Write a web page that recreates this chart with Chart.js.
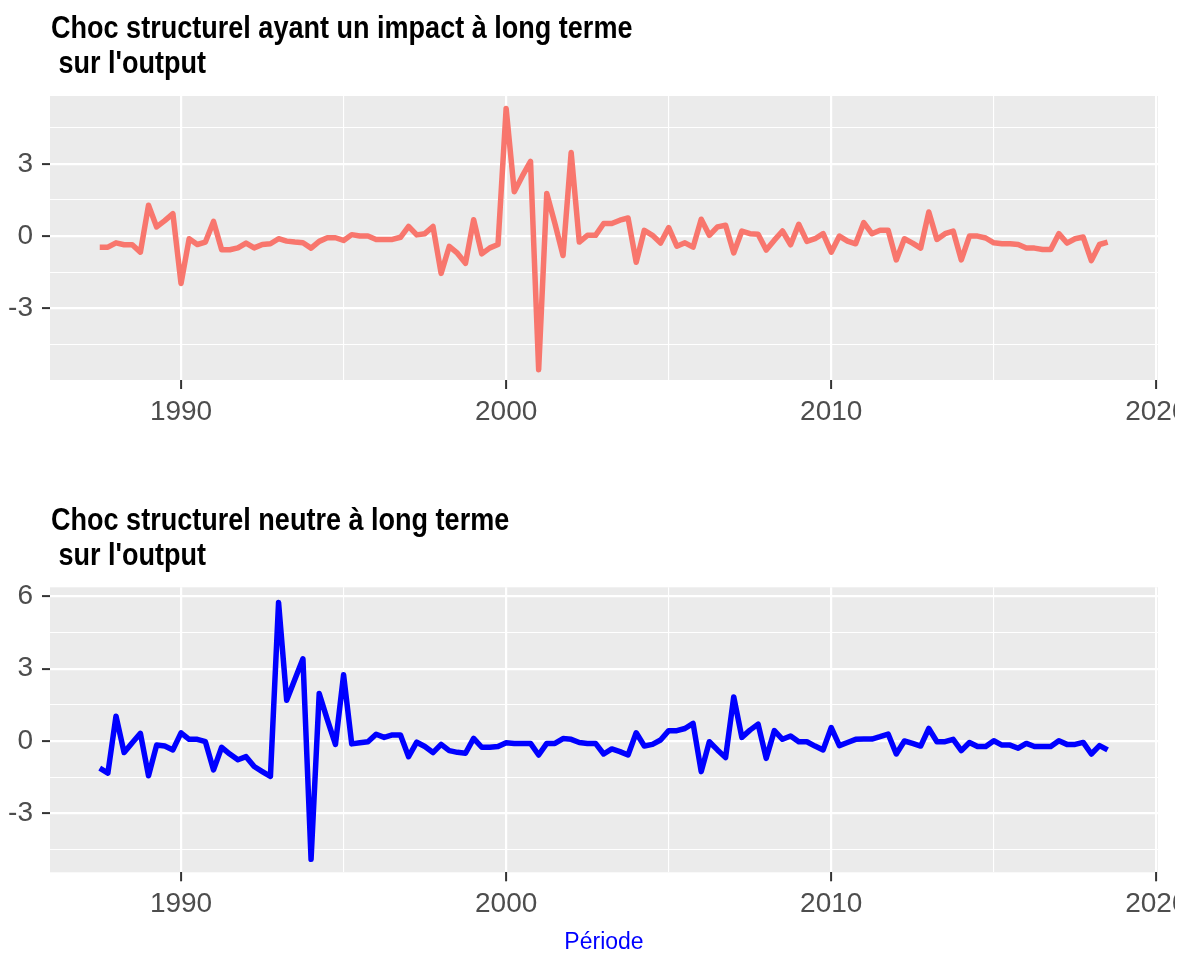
<!DOCTYPE html>
<html>
<head>
<meta charset="utf-8">
<script src="https://cdn.jsdelivr.net/npm/chart.js@4.4.1/dist/chart.umd.min.js"></script>
<style>
  html, body { margin: 0; padding: 0; background: #fff; }
  body { width: 1186px; height: 954px; position: relative; overflow: hidden; }
  .panel { position: absolute; left: 0; }
  .panel canvas { display: block; }
  /* titres en gras étroit (type Arial Narrow) */
  .titre {
    position: absolute; left: 51px; margin: 0;
    font-family: 'Liberation Sans', Arial, sans-serif; font-weight: bold;
    font-size: 32px; line-height: 35px; color: #000;
    white-space: pre; transform: scaleX(0.845); transform-origin: 0 0;
  }
</style>
</head>
<body>
<div class="panel" style="top:0"><canvas id="chocImpact" width="1175" height="480"></canvas></div>
<div class="panel" style="top:490px"><canvas id="chocNeutre" width="1175" height="464"></canvas></div>
<div class="titre" style="top:10px">Choc structurel ayant un impact à long terme
 sur l'output</div>
<div class="titre" style="top:502px">Choc structurel neutre à long terme
 sur l'output</div>
<script>
// Séries trimestrielles, 1987 T3 -> 2018 T3
const debut = 1987.5;

const chocImpact = [
  -0.46, -0.46, -0.28, -0.36, -0.36, -0.67, 1.28, 0.38, 0.64, 0.93,
  -1.97, -0.11, -0.35, -0.25, 0.61, -0.57, -0.57, -0.49, -0.29, -0.49,
  -0.35, -0.32, -0.11, -0.21, -0.25, -0.28, -0.50, -0.22, -0.07, -0.07,
  -0.18, 0.06, 0.00, 0.00, -0.14, -0.14, -0.14, -0.05, 0.40, 0.05,
  0.10, 0.40, -1.55, -0.43, -0.71, -1.13, 0.68, -0.74, -0.49, -0.35,
  5.30, 1.84, 2.50, 3.10, -5.55, 1.77, 0.52, -0.81, 3.47, -0.25,
  0.03, 0.03, 0.52, 0.52, 0.66, 0.75, -1.09, 0.24, 0.03, -0.29,
  0.35, -0.42, -0.28, -0.46, 0.70, 0.03, 0.38, 0.45, -0.70, 0.21,
  0.10, 0.08, -0.58, -0.17, 0.21, -0.36, 0.49, -0.22, -0.11, 0.10,
  -0.67, 0.00, -0.21, -0.32, 0.56, 0.10, 0.24, 0.24, -0.99, -0.11,
  -0.29, -0.50, 1.00, -0.14, 0.10, 0.21, -0.99, 0.00, 0.00, -0.08,
  -0.28, -0.32, -0.32, -0.35, -0.50, -0.50, -0.56, -0.56, 0.10, -0.29,
  -0.11, -0.04, -1.02, -0.35, -0.25
];

const chocNeutre = [
  -1.13, -1.33, 1.03, -0.48, -0.07, 0.32, -1.44, -0.17, -0.21, -0.37,
  0.34, 0.07, 0.07, -0.03, -1.20, -0.26, -0.54, -0.78, -0.65, -1.06,
  -1.27, -1.47, 5.75, 1.69, 2.55, 3.41, -4.91, 1.97, 0.89, -0.14,
  2.75, -0.12, -0.07, -0.03, 0.28, 0.15, 0.25, 0.25, -0.65, -0.05,
  -0.23, -0.48, -0.14, -0.40, -0.47, -0.51, 0.11, -0.26, -0.26, -0.23,
  -0.07, -0.10, -0.10, -0.10, -0.58, -0.10, -0.10, 0.10, 0.07, -0.06,
  -0.10, -0.10, -0.54, -0.33, -0.44, -0.58, 0.34, -0.21, -0.14, 0.04,
  0.43, 0.43, 0.52, 0.73, -1.27, -0.03, -0.37, -0.69, 1.83, 0.15,
  0.45, 0.70, -0.72, 0.43, 0.07, 0.21, -0.03, -0.03, -0.21, -0.37,
  0.56, -0.19, -0.06, 0.07, 0.08, 0.08, 0.18, 0.29, -0.54, 0.00,
  -0.10, -0.21, 0.52, -0.03, -0.03, 0.07, -0.40, -0.06, -0.23, -0.23,
  0.01, -0.17, -0.17, -0.30, -0.10, -0.23, -0.23, -0.23, 0.01, -0.14,
  -0.14, -0.06, -0.54, -0.19, -0.37
];

const periodes = chocImpact.map((_, i) => debut + i * 0.25);

const FONT = "'Liberation Sans', Arial, sans-serif";
const TICK_COL = '#4D4D4D';
const X_MIN = 1985.97, X_MAX = 2020.05;

const isMajor = (v, step) => Math.abs(v / step - Math.round(v / step)) < 1e-6;

// fond gris du panneau, façon ggplot
const panelBg = {
  id: 'panelBg',
  beforeDraw(chart) {
    const { ctx, chartArea: a } = chart;
    ctx.save();
    ctx.fillStyle = '#EBEBEB';
    ctx.fillRect(a.left, a.top, a.right - a.left, a.bottom - a.top);
    ctx.restore();
  }
};

function gridOpts(major, len) {
  return {
    color: '#FFFFFF',
    lineWidth: c => (c.tick && isMajor(c.tick.value, major)) ? 2.2 : 1.1,
    tickColor: c => (c.tick && isMajor(c.tick.value, major)) ? '#333333' : 'rgba(0,0,0,0)',
    tickWidth: 2,
    tickLength: len,
    drawTicks: true
  };
}

function makeChart(id, values, color, cfg) {
  return new Chart(document.getElementById(id), {
    type: 'line',
    data: {
      datasets: [{
        data: values.map((v, i) => ({ x: periodes[i], y: v })),
        borderColor: color,
        borderWidth: 5.5,
        borderJoinStyle: 'round',
        pointRadius: 0,
        tension: 0,
        fill: false
      }]
    },
    options: {
      responsive: false,
      animation: false,
      layout: { padding: { left: 0, right: 17, top: cfg.top, bottom: 0 } },
      plugins: {
        legend: { display: false },
        tooltip: { enabled: false }
      },
      scales: {
        x: {
          type: 'linear',
          min: X_MIN,
          max: X_MAX,
          afterFit: s => { s.height = cfg.xHeight; s.paddingLeft = 0; s.paddingRight = 0; },
          border: { display: false },
          grid: gridOpts(10, 9),
          ticks: {
            stepSize: 5,
            includeBounds: false,
            autoSkip: false,
            maxRotation: 0,
            padding: 6.5,
            color: TICK_COL,
            font: { family: FONT, size: 28, lineHeight: 1.2 },
            callback: v => isMajor(v, 10) ? String(v) : ''
          },
          title: cfg.xTitle || { display: false }
        },
        y: {
          min: cfg.yMin,
          max: cfg.yMax,
          afterFit: s => { s.width = 50; s.paddingTop = 0; s.paddingBottom = 0; },
          border: { display: false },
          grid: gridOpts(3, 8),
          ticks: {
            stepSize: 1.5,
            includeBounds: false,
            padding: 9,
            color: TICK_COL,
            font: { family: FONT, size: 28 },
            callback: v => isMajor(v, 3) ? String(v) : ''
          }
        }
      }
    },
    plugins: [panelBg]
  });
}

makeChart('chocImpact', chocImpact, '#F8766D', {
  top: 96,
  xHeight: 100,
  yMin: -5.98, yMax: 5.82
});

makeChart('chocNeutre', chocNeutre, '#0000FF', {
  top: 97.3,
  xHeight: 81.7,
  yMin: -5.45, yMax: 6.38,
  xTitle: {
    display: true,
    text: 'Période',
    color: '#0000FF',
    font: { family: FONT, size: 23, lineHeight: '22px' },
    padding: { top: 0, bottom: 0 }
  }
});
</script>
</body>
</html>
